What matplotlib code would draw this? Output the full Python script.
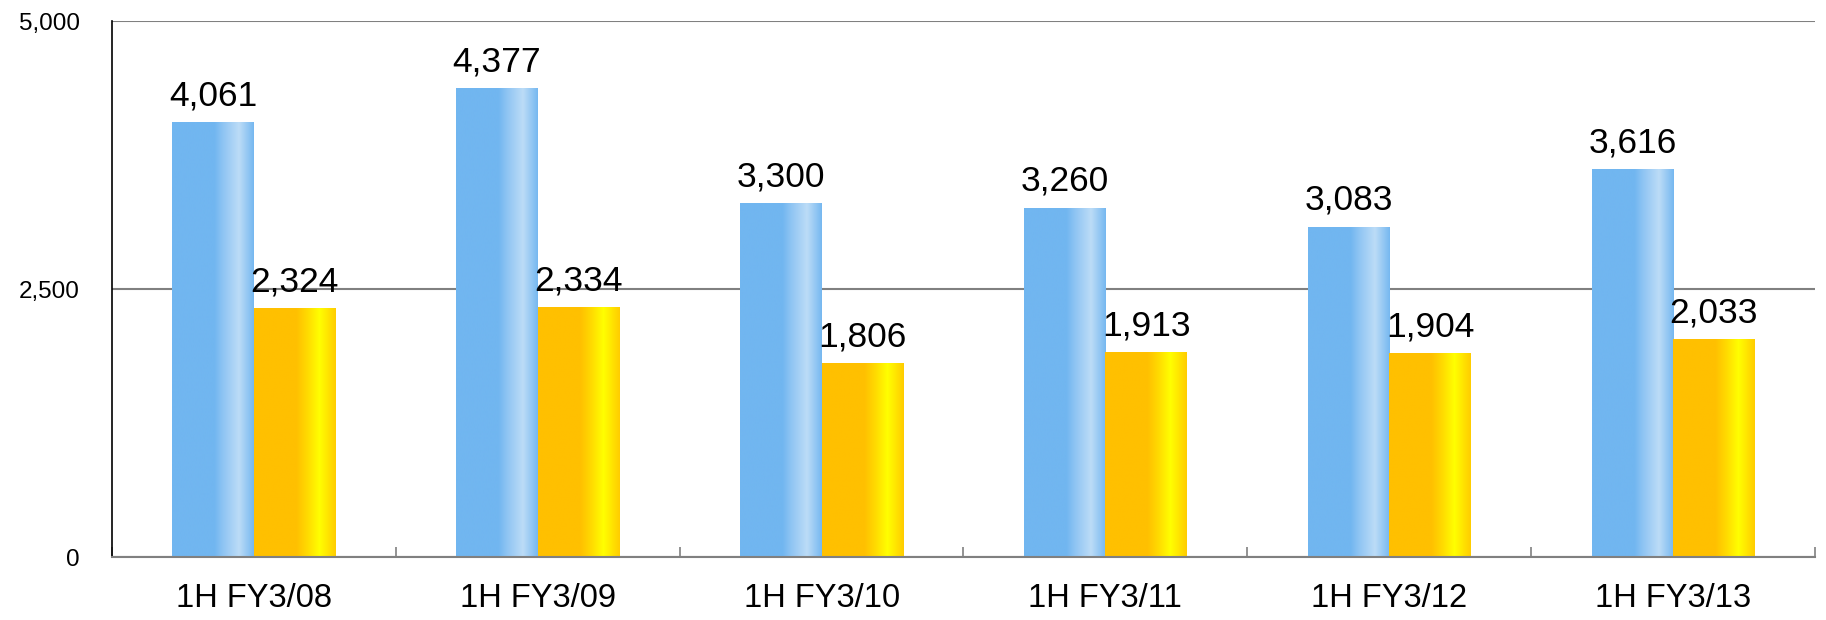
import numpy as np
import matplotlib.pyplot as plt
from matplotlib.colors import LinearSegmentedColormap
from matplotlib.ticker import FuncFormatter

plt.rcParams['font.family'] = ['Liberation Sans', 'DejaVu Sans']

# ── Data ──────────────────────────────────────────────────────────────────────
periods = ["1H FY3/08", "1H FY3/09", "1H FY3/10", "1H FY3/11", "1H FY3/12", "1H FY3/13"]
series_a = [4061, 4377, 3300, 3260, 3083, 3616]   # blue
series_b = [2324, 2334, 1806, 1913, 1904, 2033]   # orange
y_ticks = [0, 2500, 5000]

# ── Gradient fills ────────────────────────────────────────────────────────────
blue_cmap = LinearSegmentedColormap.from_list(
    "blue_grad",
    [(0.0, "#71B6F0"), (0.52, "#71B6F0"), (0.62, "#8EC4F3"),
     (0.82, "#BCDCF7"), (1.0, "#76B8F0")])
orange_cmap = LinearSegmentedColormap.from_list(
    "orange_grad",
    [(0.0, "#FFC000"), (0.52, "#FFC000"), (0.66, "#FFDC00"),
     (0.80, "#FFFF00"), (1.0, "#FFCC00")])


def gradient_fill(ax, bars, cmap):
    grad = np.linspace(0, 1, 256).reshape(1, -1)
    for b in bars:
        x0, w, h = b.get_x(), b.get_width(), b.get_height()
        im = ax.imshow(grad, cmap=cmap, aspect="auto",
                       extent=(x0, x0 + w, 0, h), zorder=2, interpolation="bilinear")
        im.set_clip_path(b)
        b.set_facecolor("none")


fig = plt.figure(figsize=(18.26, 6.2), dpi=100)
ax = fig.add_axes([0.0613, 0.1016, 0.9327, 0.8645])

x = np.arange(len(periods))
bw = 0.287
bars_a = ax.bar(x - bw, series_a, width=bw, align="edge", linewidth=0, zorder=2)
bars_b = ax.bar(x, series_b, width=bw, align="edge", linewidth=0, zorder=2)
gradient_fill(ax, bars_a, blue_cmap)
gradient_fill(ax, bars_b, orange_cmap)

# value labels just above each bar
for xi, v in zip(x, series_a):
    ax.annotate(f"{v:,}", (xi - bw / 2, v), xytext=(0, 12), textcoords="offset points",
                ha="center", va="baseline", fontsize=25.5)
for xi, v in zip(x, series_b):
    ax.annotate(f"{v:,}", (xi + bw / 2, v), xytext=(0, 12), textcoords="offset points",
                ha="center", va="baseline", fontsize=25.5)

ax.set_xlim(-0.5, len(periods) - 0.5)
ax.set_ylim(0, 5000)
ax.set_yticks(y_ticks)
ax.yaxis.set_major_formatter(FuncFormatter(lambda v, _: f"{int(v):,}"))
ax.tick_params(axis="y", length=0, pad=23, labelsize=17.5)
ax.grid(axis="y", color="#808080", linewidth=1.5)
ax.set_axisbelow(True)

ax.set_xticks(x)
ax.set_xticklabels(periods)
ax.set_xticks(np.arange(len(periods) + 1) - 0.5, minor=True)
ax.tick_params(axis="x", which="major", length=0, pad=19, labelsize=23.5)
ax.tick_params(axis="x", which="minor", direction="in", length=7, width=1.2, color="#808080")

for side in ("top", "right"):
    ax.spines[side].set_visible(False)
ax.spines["left"].set_color("black")
ax.spines["left"].set_linewidth(1.2)
ax.spines["bottom"].set_color("#808080")
ax.spines["bottom"].set_linewidth(1.5)

fig.savefig("out.png", dpi=100)
